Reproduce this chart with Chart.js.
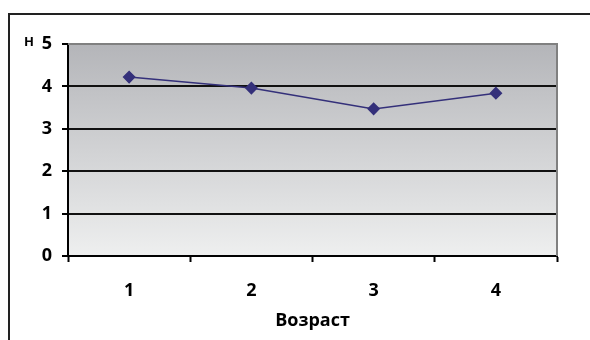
<!DOCTYPE html>
<html>
<head>
<meta charset="utf-8">
<script src="https://cdn.jsdelivr.net/npm/chart.js@4/dist/chart.umd.min.js"></script>
<style>
  html, body { margin: 0; padding: 0; background: #fff; }
  #wrap { width: 590px; height: 340px; position: relative; }
</style>
</head>
<body>
<div id="wrap"><canvas id="c" width="590" height="340"></canvas></div>
<script>
// Age groups on the x axis and the mean value per group
const ageGroups = ['1', '2', '3', '4'];
const meanValues = [4.22, 3.96, 3.47, 3.84];
const yTicks = [0, 1, 2, 3, 4, 5];

const FONT = "'Open Sans', 'DejaVu Sans', sans-serif";

// Frame around the chart, gradient plot background and the "Н" unit label
const decor = {
  id: 'decor',
  beforeDraw(chart) {
    const { ctx, chartArea: a } = chart;
    ctx.save();
    ctx.fillStyle = '#fff';
    ctx.fillRect(0, 0, chart.width, chart.height);
    ctx.strokeStyle = '#222';
    ctx.lineWidth = 2;
    ctx.beginPath();
    ctx.moveTo(9, 341);
    ctx.lineTo(9, 14);
    ctx.lineTo(592, 14);
    ctx.stroke();
    const g = ctx.createLinearGradient(0, a.top, 0, a.bottom);
    g.addColorStop(0, '#b4b5b9');
    g.addColorStop(1, '#eeefef');
    ctx.fillStyle = g;
    ctx.fillRect(a.left, a.top, a.right - a.left, a.bottom - a.top);
    ctx.fillStyle = '#000';
    ctx.font = "bold 13px " + FONT;
    ctx.textAlign = 'left';
    ctx.textBaseline = 'middle';
    ctx.fillText('Н', 24, 42);
    ctx.restore();
  },
  beforeDatasetsDraw(chart) {
    const { ctx, chartArea: a } = chart;
    ctx.save();
    ctx.strokeStyle = '#808080';
    ctx.lineWidth = 2;
    ctx.beginPath();
    ctx.moveTo(a.left, a.top);
    ctx.lineTo(a.right, a.top);
    ctx.lineTo(a.right, a.bottom);
    ctx.stroke();
    ctx.restore();
  }
};

new Chart(document.getElementById('c'), {
  type: 'line',
  data: {
    labels: ageGroups,
    datasets: [{
      data: meanValues,
      borderColor: '#34307a',
      backgroundColor: '#34307a',
      borderWidth: 1.5,
      pointStyle: 'rectRot',
      pointRadius: 5.5,
      pointHoverRadius: 5.5,
      tension: 0
    }]
  },
  options: {
    responsive: false,
    animation: false,
    events: [],
    layout: { padding: { left: 0, top: 44, right: 33, bottom: 0 } },
    plugins: {
      legend: { display: false },
      tooltip: { enabled: false }
    },
    scales: {
      x: {
        offset: true,
        grid: {
          offset: true,
          drawOnChartArea: false,
          drawTicks: true,
          tickLength: 6,
          tickColor: '#000',
          tickWidth: 2
        },
        border: { color: '#000', width: 2 },
        ticks: {
          color: '#000',
          padding: 18,
          font: { family: FONT, size: 18, weight: 'bold' }
        },
        title: {
          display: true,
          text: 'Возраст',
          color: '#000',
          padding: { top: 4, bottom: 8 },
          font: { family: FONT, size: 18, weight: 'bold' }
        },
        afterFit(s) { s.height = 84; }
      },
      y: {
        min: 0,
        max: 5,
        afterBuildTicks(s) { s.ticks = yTicks.map(v => ({ value: v })); },
        grid: {
          color: ctx => (ctx.tick && (ctx.tick.value === 5 || ctx.tick.value === 0)) ? 'rgba(0,0,0,0)' : '#111',
          lineWidth: 2,
          tickLength: 6,
          tickColor: '#000',
          tickWidth: 2
        },
        border: { color: '#000', width: 2 },
        ticks: {
          color: '#000',
          padding: 10,
          font: { family: FONT, size: 18, weight: 'bold' }
        },
        afterFit(s) { s.width = 68; }
      }
    }
  },
  plugins: [decor]
});
</script>
</body>
</html>
